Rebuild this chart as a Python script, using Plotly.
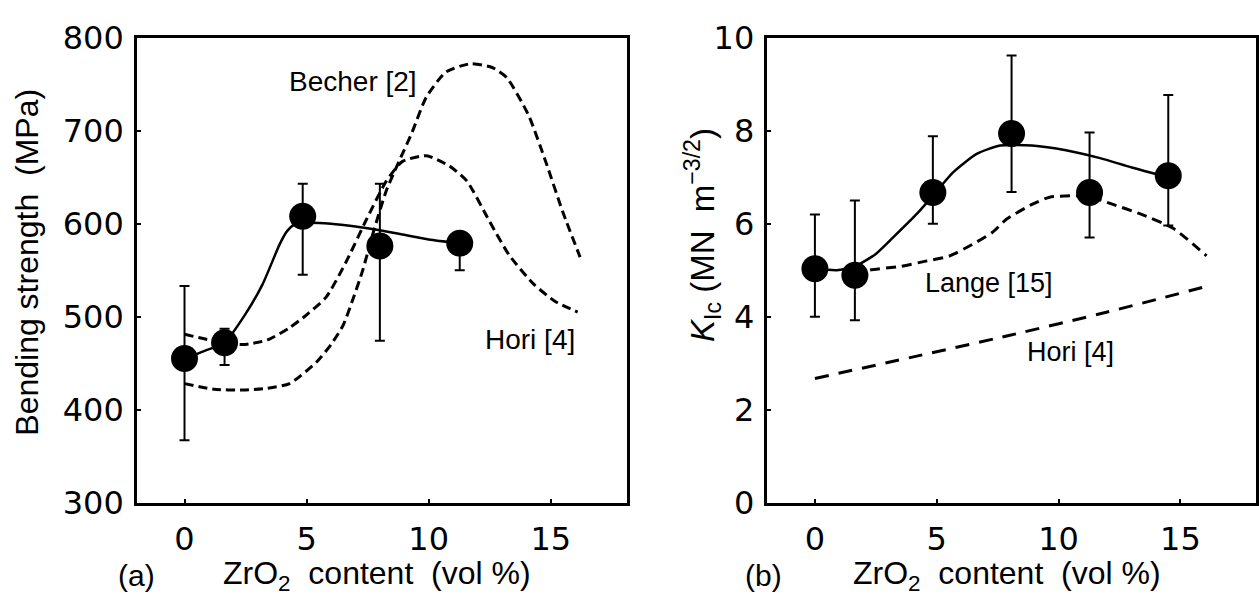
import plotly.graph_objects as go

W, H = 1259, 605

# ---------------- Panel (a): bending strength ----------------
a_x = [0, 1.64, 4.84, 8.0, 11.27]
a_y = [455, 472, 608, 576, 579]
a_err_plus = [78, 15, 35, 67, 0]
a_err_minus = [88, 24, 63, 102, 29]

a_fit_x = [0, 0.8, 1.64, 2.5, 3.2, 3.9, 4.2, 4.5, 5.0, 6.0, 7.0, 8.0, 9.0, 10.0, 11.27]
a_fit_y = [455, 463, 472, 503, 535, 578, 592, 599, 601, 600, 597, 593, 588, 583, 579]

becher_x = [0, 1.2, 2.4, 3.4, 4.3, 5.4, 6.0, 6.5, 6.9, 7.3, 7.7, 8.27, 8.8, 9.3, 9.9,
            10.7, 11.7, 12.6, 13.2, 14.1, 14.8, 15.5, 16.2]
becher_y = [428, 422, 421, 423, 428, 451, 470, 491, 519, 550, 588, 636, 668, 697, 736,
            763, 772, 768, 757, 716, 666, 612, 564]

hori_a_x = [0, 1.2, 2.4, 3.4, 4.3, 5.0, 5.8, 6.6, 7.46, 8.27, 8.93, 9.9, 10.85, 11.56,
            12.5, 13.3, 14.3, 15.2, 16.1]
hori_a_y = [481, 474, 470, 475, 488, 502, 521, 558, 605, 646, 667, 673, 662, 646,
            602, 566, 535, 516, 505]

# ---------------- Panel (b): fracture toughness ----------------
b_x = [0, 1.64, 4.84, 8.07, 11.27, 14.5]
b_y = [5.03, 4.89, 6.67, 7.94, 6.67, 7.03]
b_err_plus = [1.17, 1.61, 1.21, 1.68, 1.29, 1.74]
b_err_minus = [1.03, 0.97, 0.67, 1.26, 0.97, 1.07]

b_fit_x = [0, 0.9, 1.64, 2.5, 3.2, 4.2, 4.84, 5.66, 6.64, 7.6, 8.9, 10.3, 11.7, 13.0, 14.5]
b_fit_y = [5.03, 5.0, 5.08, 5.35, 5.7, 6.22, 6.6, 7.1, 7.5, 7.68, 7.68, 7.58, 7.41, 7.21, 7.0]

lange_x = [1.64, 2.25, 3.5, 4.6, 5.5, 6.48, 7.3, 7.87, 8.93, 9.63, 10.57, 11.27,
           12.2, 13.3, 14.7, 16.07]
lange_y = [4.9, 5.0, 5.08, 5.2, 5.3, 5.56, 5.82, 6.1, 6.42, 6.57, 6.6, 6.58,
           6.42, 6.22, 5.9, 5.31]

hori_b_x = [0, 4, 8, 12, 16.07]
hori_b_y = [2.67, 3.13, 3.6, 4.1, 4.65]

TXT = "Liberation Sans"
NUM = "DejaVu Sans"

fig = go.Figure()

dash_a = "9px,5px"
fig.add_trace(go.Scatter(x=becher_x, y=becher_y, mode="lines", xaxis="x", yaxis="y",
                         line=dict(color="black", width=3, dash=dash_a, shape="spline", smoothing=0.6)))
fig.add_trace(go.Scatter(x=hori_a_x, y=hori_a_y, mode="lines", xaxis="x", yaxis="y",
                         line=dict(color="black", width=3, dash=dash_a, shape="spline", smoothing=0.6)))
fig.add_trace(go.Scatter(x=a_fit_x, y=a_fit_y, mode="lines", xaxis="x", yaxis="y",
                         line=dict(color="black", width=2.5, shape="spline", smoothing=0.6)))
fig.add_trace(go.Scatter(x=a_x, y=a_y, mode="markers", xaxis="x", yaxis="y",
                         marker=dict(color="black", size=27),
                         error_y=dict(type="data", symmetric=False, array=a_err_plus,
                                      arrayminus=a_err_minus, color="black", thickness=2, width=5)))

fig.add_trace(go.Scatter(x=lange_x, y=lange_y, mode="lines", xaxis="x2", yaxis="y2",
                         line=dict(color="black", width=3, dash="10px,6px", shape="spline", smoothing=0.6)))
fig.add_trace(go.Scatter(x=hori_b_x, y=hori_b_y, mode="lines", xaxis="x2", yaxis="y2",
                         line=dict(color="black", width=3, dash="14px,10px", shape="spline", smoothing=0.6)))
fig.add_trace(go.Scatter(x=b_fit_x, y=b_fit_y, mode="lines", xaxis="x2", yaxis="y2",
                         line=dict(color="black", width=2.5, shape="spline", smoothing=0.6)))
fig.add_trace(go.Scatter(x=b_x, y=b_y, mode="markers", xaxis="x2", yaxis="y2",
                         marker=dict(color="black", size=27),
                         error_y=dict(type="data", symmetric=False, array=b_err_plus,
                                      arrayminus=b_err_minus, color="black", thickness=2, width=5)))

top, bottom = 20, 516
yd = [1 - bottom / H, 1 - top / H]

common_axis = dict(showgrid=False, zeroline=False, showline=True, linecolor="black",
                   linewidth=2.5, mirror=True, ticks="inside", ticklen=4, tickwidth=2,
                   tickcolor="black", tickfont=dict(family=NUM, size=32, color="black"))

fig.update_layout(
    width=W, height=H, margin=dict(l=0, r=0, t=0, b=0),
    paper_bgcolor="white", plot_bgcolor="white", showlegend=False,
    xaxis=dict(domain=[137 / W, 627 / W], range=[-1.95, 18.1], tickvals=[0, 5, 10, 15],
               anchor="y", ticklabelstandoff=6, **common_axis),
    yaxis=dict(domain=yd, range=[300, 800], tickvals=[300, 400, 500, 600, 700, 800],
               anchor="x", ticklabelstandoff=4, **common_axis),
    xaxis2=dict(domain=[768 / W, 1257 / W], range=[-1.95, 18.1], tickvals=[0, 5, 10, 15],
                anchor="y2", ticklabelstandoff=6, **common_axis),
    yaxis2=dict(domain=yd, range=[0, 10], tickvals=[0, 2, 4, 6, 8, 10],
                anchor="x2", ticklabelstandoff=4, **common_axis),
)


def ann(text, px, py, size, angle=0, family=TXT):
    fig.add_annotation(text=text, x=px / W, y=1 - py / H, xref="paper", yref="paper",
                       showarrow=False, textangle=angle, xanchor="center", yanchor="middle",
                       font=dict(family=family, size=size, color="black"))


ann("Becher [2]", 353, 67, 28)
ann("Hori [4]", 530, 342, 28)
ann("Lange [15]", 990, 282, 27)
ann("Hori [4]", 1071, 355, 27)

ann("Bending strength\u00a0 (MPa)", 27, 259, 32, angle=-90)
ann("<i>K</i><sub>Ic</sub>\u00a0(MN\u00a0 m<sup>\u22123/2</sup>)", 703, 230, 33, angle=-90)

ann("(a)", 137, 594, 30)
ann("ZrO<sub>2</sub>\u00a0 content\u00a0 (vol %)", 377, 594, 32)
ann("(b)", 764, 594, 30)
ann("ZrO<sub>2</sub>\u00a0 content\u00a0 (vol %)", 1008, 594, 32)

fig.write_html("out.html")
